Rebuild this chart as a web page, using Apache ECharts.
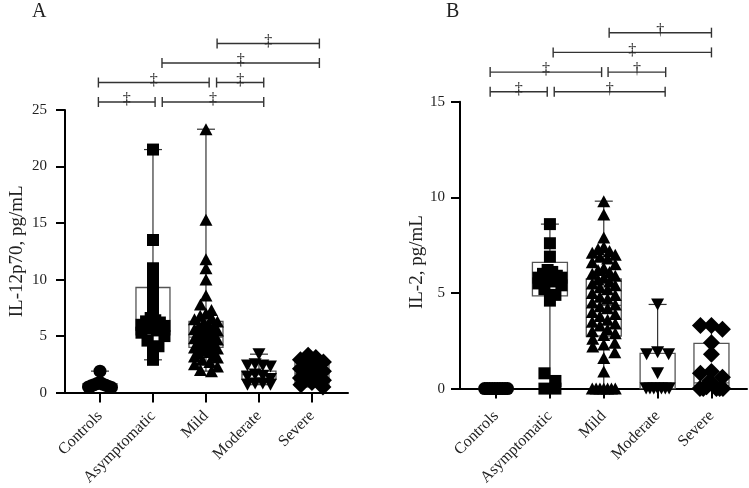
<!DOCTYPE html>
<html>
<head>
<meta charset="utf-8">
<script src="https://cdn.jsdelivr.net/npm/echarts@6/dist/echarts.min.js"></script>
<style>html,body{margin:0;padding:0;background:#fff}#c{width:749px;height:488px}</style>
</head>
<body>
<div id="c"></div>
<script>
// ---------- DATA ----------
const categories = ['Controls', 'Asymptomatic', 'Mild', 'Moderate', 'Severe'];
const yTicksA = [0, 5, 10, 15, 20, 25];
const yTicksB = [0, 5, 10, 15];

// Panel A: IL-12p70 (pg/mL)
const il12Controls     = [1.9, 0.9, 0.8, 0.75, 0.7, 0.65, 0.6, 0.55, 0.5, 0.45];
const il12Asymptomatic = [21.5, 13.5, 11.0, 10.1, 9.2, 8.3, 7.4, 6.6, 6.4, 6.3, 6.2, 6.0, 5.9, 5.7, 5.5, 5.3, 5.0, 4.6, 4.1, 3.7, 2.9];
const il12Mild         = [23.3, 15.3, 11.8, 11.0, 10.0, 8.6, 7.8, 7.3, 7.0, 6.8, 6.6, 6.5, 6.3, 6.2, 6.0, 5.9, 5.8, 5.6, 5.5, 5.4, 5.3, 5.2, 5.1, 5.0, 4.9, 4.8, 4.7, 4.6, 4.5, 4.4, 4.3, 4.2, 4.1, 4.0, 3.9, 3.8, 3.7, 3.6, 3.5, 3.3, 3.2, 3.1, 2.9, 2.7, 2.5, 2.3, 2.0, 1.9];
const il12Moderate     = [3.4, 2.5, 2.4, 2.4, 2.3, 1.6, 1.5, 1.4, 1.2, 0.8, 0.8, 0.7, 0.7];
const il12Severe       = [3.3, 3.1, 2.9, 2.7, 2.5, 2.3, 2.1, 1.9, 1.7, 1.5, 1.3, 1.1, 0.9, 0.7, 0.5];
// box: [q1, median, q3]
const il12Box = [[0.5, 0.6, 0.8], [5.1, 6.0, 9.3], [4.0, 4.9, 6.3], [1.2, 1.6, 1.9], [0.6, 1.7, 2.75]];

// Panel B: IL-2 (pg/mL)
const il2Controls     = [0, 0, 0, 0, 0, 0, 0, 0, 0, 0];
const il2Asymptomatic = [8.6, 7.6, 6.9, 6.2, 6.1, 6.0, 5.9, 5.8, 5.8, 5.7, 5.6, 5.5, 5.4, 5.2, 4.9, 4.6, 0.8, 0.4, 0, 0];
const il2Mild         = [9.8, 9.1, 7.9, 7.4, 7.3, 7.2, 7.1, 7.0, 6.9, 6.8, 6.6, 6.5, 6.3, 6.2, 6.1, 6.0, 5.9, 5.8, 5.7, 5.6, 5.5, 5.4, 5.3, 5.2, 5.0, 4.9, 4.8, 4.7, 4.5, 4.4, 4.3, 4.2, 4.0, 3.9, 3.8, 3.6, 3.5, 3.4, 3.3, 3.1, 3.0, 2.9, 2.8, 2.6, 2.4, 2.3, 2.2, 1.9, 1.6, 0.9, 0, 0, 0, 0, 0, 0, 0];
const il2Moderate     = [4.4, 1.9, 1.8, 1.8, 0.8, 0, 0, 0, 0, 0, 0, 0];
const il2Severe       = [3.3, 3.3, 3.1, 2.4, 1.8, 0.9, 0.8, 0.6, 0.4, 0.2, 0.1, 0, 0, 0, 0, 0];
const il2Box = [[0, 0, 0], [4.85, 5.8, 6.6], [2.75, 4.35, 5.74], [0, 0.3, 1.84], [0.15, 0.3, 2.36]];

// significance brackets: [row, fromCategory, toCategory, mark]
const bracketsA = [[1, 'Controls', 'Asymptomatic', '‡'], [1, 'Asymptomatic', 'Moderate', '‡'], [2, 'Controls', 'Mild', '‡'], [2, 'Mild', 'Moderate', '‡'], [3, 'Asymptomatic', 'Severe', '‡'], [4, 'Mild', 'Severe', '‡']];
const bracketsB = [[1, 'Controls', 'Asymptomatic', '‡'], [1, 'Asymptomatic', 'Moderate', '†'], [2, 'Controls', 'Mild', '‡'], [2, 'Mild', 'Moderate', '†'], [3, 'Asymptomatic', 'Severe', '‡'], [4, 'Mild', 'Severe', '†']];

// ---------- LAYOUT / STYLE ----------
const FONT = '"Liberation Serif", "DejaVu Serif", serif';
// bracket end nudges (in category units), layout only
const nudgeA = [[-0.03, 0.04], [0.175, 0.09], [-0.03, 0.06], [0.2, 0.09], [0.17, 0.14], [0.21, 0.14]];
const nudgeB = [[-0.11, -0.05], [0.08, 0.14], [-0.11, -0.04], [0.08, 0.15], [0.06, 0.0], [0.1, 0.0]];

const gA = {left: 65, top: 110, width: 283, height: 283, xmin: -0.66, xmax: 4.68, ymax: 25};
const gB = {left: 460, top: 101.7, width: 287, height: 287.6, xmin: -0.67, xmax: 4.66, ymax: 15};
const bgA = {left: 65, top: 24, width: 283, height: 97.5};
const bgB = {left: 460, top: 13, width: 287, height: 98.5};

// beeswarm-like horizontal spreading of points with similar values
function swarm(values, cat, g) {
  const pxX = g.width / (g.xmax - g.xmin), pxY = g.height / g.ymax;
  const sorted = values.slice().sort((a, b) => b - a);
  const binH = 8, step0 = 11, maxHalf = 11.5;
  const out = [];
  let i = 0;
  while (i < sorted.length) {
    let j = i; const top = sorted[i];
    while (j < sorted.length && (top - sorted[j]) * pxY < binH) j++;
    const n = j - i;
    const step = n > 1 ? Math.min(step0, 2 * maxHalf / (n - 1)) : 0;
    const slots = [];
    for (let k = 0; k < n; k++) slots.push((k - (n - 1) / 2) * step);
    slots.sort((a, b) => Math.abs(a) - Math.abs(b) || a - b);
    for (let k = 0; k < n; k++) out.push([cat + slots[k] / pxX, sorted[i + k]]);
    i = j;
  }
  return out;
}

const symbols = [
  {symbol: 'circle', size: 13, rotate: 0},
  {symbol: 'rect', size: 12, rotate: 0},
  {symbol: 'triangle', size: [13, 12], rotate: 0},
  {symbol: 'triangle', size: [13, 12], rotate: 180},
  {symbol: 'diamond', size: [17, 17], rotate: 0}
];

function boxData(groups, boxes) {
  return groups.map((vals, i) => [i, Math.min(...vals), boxes[i][0], boxes[i][1], boxes[i][2], Math.max(...vals)]);
}

function boxRender(hw) {
  return function (params, api) {
    const x = api.value(0);
    const c = v => api.coord([x, v]);
    const pMin = c(api.value(1)), pQ1 = c(api.value(2)), pMed = c(api.value(3)), pQ3 = c(api.value(4)), pMax = c(api.value(5));
    const cx = pQ1[0], cap = 9;
    const ls = {stroke: '#333', lineWidth: 1.2};
    return {
      type: 'group',
      children: [
        {type: 'line', shape: {x1: cx, y1: pQ3[1], x2: cx, y2: pMax[1]}, style: ls},
        {type: 'line', shape: {x1: cx, y1: pQ1[1], x2: cx, y2: pMin[1]}, style: ls},
        {type: 'line', shape: {x1: cx - cap, y1: pMax[1], x2: cx + cap, y2: pMax[1]}, style: ls},
        {type: 'line', shape: {x1: cx - cap, y1: pMin[1], x2: cx + cap, y2: pMin[1]}, style: ls},
        {type: 'rect', shape: {x: cx - hw, y: pQ3[1], width: 2 * hw, height: pQ1[1] - pQ3[1]}, style: {fill: 'none', stroke: '#555', lineWidth: 1.3}},
        {type: 'line', shape: {x1: cx - hw, y1: pMed[1], x2: cx + hw, y2: pMed[1]}, style: {stroke: '#555', lineWidth: 1.3}}
      ]
    };
  };
}

function bracketData(list, nudge) {
  return list.map((b, i) => [categories.indexOf(b[1]) + nudge[i][0], categories.indexOf(b[2]) + nudge[i][1], b[0]]);
}
function bracketRender(list) {
  return function (params, api) {
    const p1 = api.coord([api.value(0), api.value(2)]);
    const p2 = api.coord([api.value(1), api.value(2)]);
    const y = p1[1], t = 5;
    const ls = {stroke: '#333', lineWidth: 1.4};
    return {
      type: 'group',
      children: [
        {type: 'line', shape: {x1: p1[0], y1: y, x2: p2[0], y2: y}, style: ls},
        {type: 'line', shape: {x1: p1[0], y1: y - t, x2: p1[0], y2: y + t}, style: ls},
        {type: 'line', shape: {x1: p2[0], y1: y - t, x2: p2[0], y2: y + t}, style: ls},
        {type: 'text', style: {text: list[params.dataIndex][3], x: (p1[0] + p2[0]) / 2, y: y - 2, align: 'center', verticalAlign: 'middle', font: '16px ' + FONT, fill: '#222'}}
      ]
    };
  };
}

function xAxis(g, gridIndex, margin) {
  return {
    type: 'value', gridIndex, min: g.xmin, max: g.xmax,
    axisLine: {show: true, onZero: false, lineStyle: {color: '#000', width: 2}},
    axisTick: {show: true, customValues: [0, 1, 2, 3, 4], length: 10, lineStyle: {color: '#000', width: 2}},
    axisLabel: {show: true, customValues: [0, 1, 2, 3, 4], rotate: 45, margin, formatter: v => categories[Math.round(v)], fontFamily: FONT, fontSize: 16, color: '#222'},
    splitLine: {show: false}
  };
}
function yAxis(g, gridIndex, ticks, name, nameGap, margin, namePad) {
  return {
    type: 'value', gridIndex, min: ticks[0], max: ticks[ticks.length - 1], interval: ticks[1] - ticks[0],
    name, nameLocation: 'middle', nameGap, nameRotate: 90,
    nameTextStyle: {fontFamily: FONT, fontSize: 19, color: '#222', padding: namePad},
    axisLine: {show: true, onZero: false, lineStyle: {color: '#000', width: 2}},
    axisTick: {show: true, length: 9, lineStyle: {color: '#000', width: 2}},
    axisLabel: {fontFamily: FONT, fontSize: 15, color: '#222', margin},
    splitLine: {show: false}
  };
}
function hiddenX(g, gridIndex) { return {type: 'value', gridIndex, min: g.xmin, max: g.xmax, show: false}; }
function hiddenY(gridIndex) { return {type: 'value', gridIndex, min: 0, max: 5, show: false}; }

const groupsA = [il12Controls, il12Asymptomatic, il12Mild, il12Moderate, il12Severe];
const groupsB = [il2Controls, il2Asymptomatic, il2Mild, il2Moderate, il2Severe];

const series = [];
series.push({type: 'custom', xAxisIndex: 0, yAxisIndex: 0, renderItem: boxRender(17), data: boxData(groupsA, il12Box), z: 1, silent: true});
series.push({type: 'custom', xAxisIndex: 1, yAxisIndex: 1, renderItem: boxRender(17.5), data: boxData(groupsB, il2Box), z: 1, silent: true});
groupsA.forEach((vals, i) => series.push({type: 'scatter', xAxisIndex: 0, yAxisIndex: 0, data: swarm(vals, i, gA), symbol: symbols[i].symbol, symbolSize: symbols[i].size, symbolRotate: symbols[i].rotate, itemStyle: {color: '#000', opacity: 1}, z: 3, silent: true}));
groupsB.forEach((vals, i) => series.push({type: 'scatter', xAxisIndex: 1, yAxisIndex: 1, data: swarm(vals, i, gB), symbol: symbols[i].symbol, symbolSize: symbols[i].size, symbolRotate: symbols[i].rotate, itemStyle: {color: '#000', opacity: 1}, z: 3, silent: true}));
series.push({type: 'custom', xAxisIndex: 2, yAxisIndex: 2, renderItem: bracketRender(bracketsA), data: bracketData(bracketsA, nudgeA), silent: true});
series.push({type: 'custom', xAxisIndex: 3, yAxisIndex: 3, renderItem: bracketRender(bracketsB), data: bracketData(bracketsB, nudgeB), silent: true});

const chart = echarts.init(document.getElementById('c'), null, {renderer: 'canvas'});
chart.setOption({
  backgroundColor: '#fff',
  animation: false,
  grid: [
    {left: gA.left, top: gA.top, width: gA.width, height: gA.height},
    {left: gB.left, top: gB.top, width: gB.width, height: gB.height},
    {left: bgA.left, top: bgA.top, width: bgA.width, height: bgA.height},
    {left: bgB.left, top: bgB.top, width: bgB.width, height: bgB.height}
  ],
  xAxis: [xAxis(gA, 0, 21), xAxis(gB, 1, 25), hiddenX(gA, 2), hiddenX(gB, 3)],
  yAxis: [yAxis(gA, 0, yTicksA, 'IL-12p70, pg/mL', 38, 18, 0), yAxis(gB, 1, yTicksB, 'IL-2, pg/mL', 33, 15, [0, 34, 0, 0]), hiddenY(2), hiddenY(3)],
  graphic: [
    {type: 'text', left: 32, top: 2, style: {text: 'A', font: '20px ' + FONT, fill: '#222'}},
    {type: 'text', left: 446, top: 2, style: {text: 'B', font: '20px ' + FONT, fill: '#222'}}
  ],
  series
});
</script>
</body>
</html>
